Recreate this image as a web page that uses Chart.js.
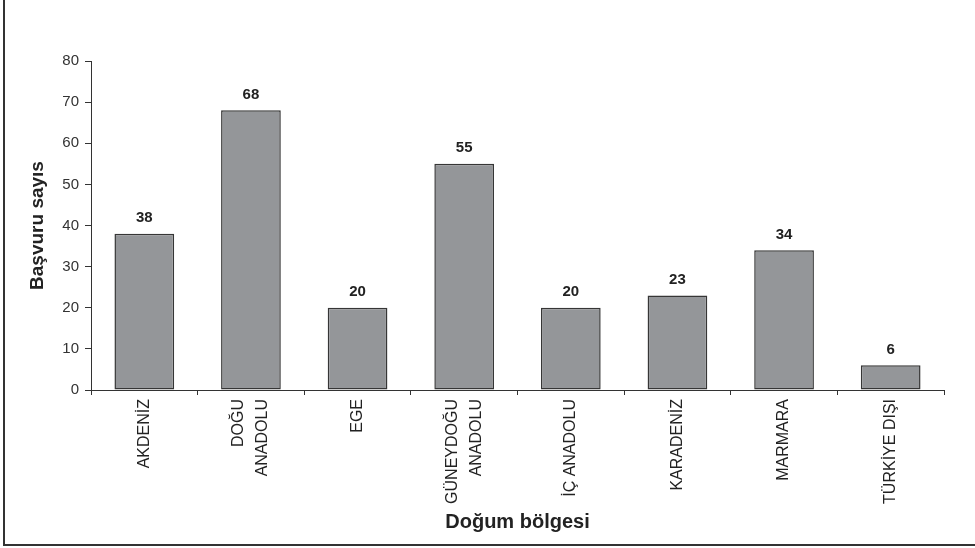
<!DOCTYPE html>
<html>
<head>
<meta charset="utf-8">
<script src="https://cdn.jsdelivr.net/npm/chart.js@4.4.1/dist/chart.umd.min.js"></script>
<style>
  html, body { margin: 0; padding: 0; background: #fff; }
  #wrap { position: absolute; left: 0; top: 0; width: 975px; height: 548px; }
</style>
</head>
<body>
<div id="wrap"><canvas id="c" width="975" height="548"></canvas></div>
<script>
// Birth region categories and application counts
const regions = [
  'AKDENİZ',
  ['DOĞU', 'ANADOLU'],
  'EGE',
  ['GÜNEYDOĞU', 'ANADOLU'],
  'İÇ ANADOLU',
  'KARADENİZ',
  'MARMARA',
  'TÜRKİYE DIŞI'
];
const applications = [38, 68, 20, 55, 20, 23, 34, 6];
const yTicks = [0, 10, 20, 30, 40, 50, 60, 70, 80];

const FONT = 'Arial, "Liberation Sans", Helvetica, sans-serif';
const INK = '#222';

// Left and bottom frame lines around the figure
const framePlugin = {
  id: 'frame',
  beforeDraw(chart) {
    const ctx = chart.ctx;
    ctx.save();
    ctx.strokeStyle = '#333';
    ctx.lineWidth = 2;
    ctx.beginPath();
    ctx.moveTo(4, 0);
    ctx.lineTo(4, 545);
    ctx.lineTo(975, 545);
    ctx.stroke();
    ctx.restore();
  }
};

// Vertical category labels, multi-line ones centred on their tick
const categoryLabels = {
  id: 'categoryLabels',
  afterDraw(chart) {
    const scale = chart.scales.x;
    const ctx = chart.ctx;
    const lineGap = 24;
    ctx.save();
    ctx.font = '16px ' + FONT;
    ctx.fillStyle = INK;
    ctx.textAlign = 'right';
    ctx.textBaseline = 'middle';
    chart.data.labels.forEach((label, i) => {
      const lines = Array.isArray(label) ? label : [label];
      const x = scale.getPixelForTick(i);
      lines.forEach((line, j) => {
        const dx = (j - (lines.length - 1) / 2) * lineGap;
        ctx.save();
        ctx.translate(x + dx, scale.top + 9);
        ctx.rotate(-Math.PI / 2);
        ctx.fillText(line, 0, 0);
        ctx.restore();
      });
    });
    ctx.restore();
  }
};

// Value printed above each bar
const valueLabels = {
  id: 'valueLabels',
  afterDatasetsDraw(chart) {
    const ctx = chart.ctx;
    const meta = chart.getDatasetMeta(0);
    const data = chart.data.datasets[0].data;
    ctx.save();
    ctx.font = 'bold 15px ' + FONT;
    ctx.fillStyle = INK;
    ctx.textAlign = 'center';
    ctx.textBaseline = 'bottom';
    meta.data.forEach((bar, i) => {
      ctx.fillText(String(data[i]), bar.x, bar.y - 8);
    });
    ctx.restore();
  }
};

new Chart(document.getElementById('c'), {
  type: 'bar',
  data: {
    labels: regions,
    datasets: [{
      data: applications,
      backgroundColor: '#949699',
      borderColor: '#363636',
      borderWidth: 1.5,
      borderSkipped: false,
      categoryPercentage: 1,
      barPercentage: 0.56
    }]
  },
  options: {
    responsive: false,
    animation: false,
    devicePixelRatio: 1,
    layout: { padding: { left: 26, right: 31, top: 61, bottom: 10 } },
    plugins: {
      legend: { display: false },
      tooltip: { enabled: false }
    },
    scales: {
      x: {
        afterFit(scale) { scale.height = 148; },
        grid: {
          offset: true,
          drawOnChartArea: false,
          drawTicks: true,
          tickLength: 5,
          tickColor: '#333'
        },
        border: { display: true, color: '#333', width: 1 },
        ticks: { display: false, autoSkip: false },
        title: {
          display: true,
          text: 'Doğum bölgesi',
          color: INK,
          font: { family: FONT, size: 20, weight: 'bold' },
          padding: { top: 0, bottom: 4 }
        }
      },
      y: {
        min: 0,
        max: 80,
        afterFit(scale) { scale.width = 65; },
        afterBuildTicks(scale) { scale.ticks = yTicks.map(v => ({ value: v })); },
        grid: {
          drawOnChartArea: false,
          drawTicks: true,
          tickLength: 6,
          tickColor: '#333'
        },
        border: { display: true, color: '#333', width: 1 },
        ticks: {
          padding: 6,
          color: '#333',
          font: { family: FONT, size: 15 }
        },
        title: {
          display: true,
          text: 'Başvuru sayıs',
          color: INK,
          font: { family: FONT, size: 19, weight: 'bold' },
          padding: { top: 0, bottom: 0 }
        }
      }
    }
  },
  plugins: [framePlugin, categoryLabels, valueLabels]
});
</script>
</body>
</html>
